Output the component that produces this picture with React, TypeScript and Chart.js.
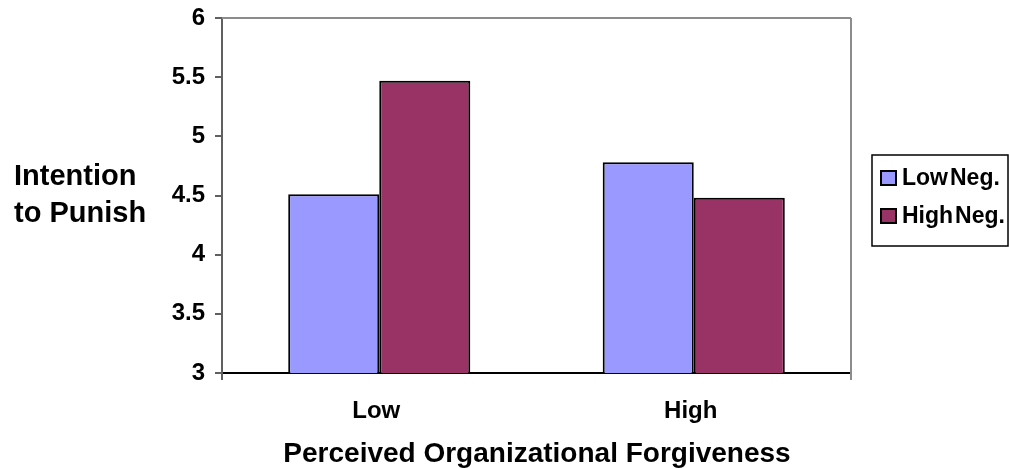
import React, { useEffect, useRef } from "react";
import { Chart, registerables } from "chart.js";

Chart.register(...registerables);

const categories = ["Low", "High"];
const lowNegValues = [4.51, 4.78];
const highNegValues = [5.47, 4.48];
const seriesNames = ["Low Neg.", "High Neg."];
const seriesColors = ["#9999FF", "#993366"];
const yTicks = [3, 3.5, 4, 4.5, 5, 5.5, 6];
const yTitleLines = ["Intention", "to Punish"];
const xTitle = "Perceived Organizational Forgiveness";

const FONT = "'Liberation Sans', Arial, sans-serif";

const decorPlugin = {
  id: "decor",
  afterDraw(chart: any) {
    const { ctx, chartArea } = chart;
    const { left, right, top, bottom } = chartArea;
    ctx.save();
    // top & right border (gray)
    ctx.strokeStyle = "#8c8c8c";
    ctx.lineWidth = 2;
    ctx.beginPath();
    ctx.moveTo(left, top);
    ctx.lineTo(right, top);
    ctx.moveTo(right, top);
    ctx.lineTo(right, bottom + 7);
    ctx.stroke();
    // left axis extension
    ctx.strokeStyle = "#606060";
    ctx.beginPath();
    ctx.moveTo(left, bottom);
    ctx.lineTo(left, bottom + 7);
    ctx.stroke();
    // y title
    ctx.fillStyle = "#000";
    ctx.font = `bold 29px ${FONT}`;
    ctx.textAlign = "left";
    ctx.textBaseline = "alphabetic";
    ctx.fillText(yTitleLines[0], 14, 185);
    ctx.fillText(yTitleLines[1], 14, 222);
    // x title
    ctx.textAlign = "center";
    ctx.font = `bold 28px ${FONT}`;
    ctx.fillText(xTitle, (left + right) / 2 + 0.5, 462);
    // legend
    const bx = 872, by = 155, bw = 136, bh = 91;
    ctx.strokeStyle = "#000";
    ctx.lineWidth = 1.5;
    ctx.strokeRect(bx, by, bw, bh);
    ctx.font = `bold 23px ${FONT}`;
    ctx.textAlign = "left";
    ctx.textBaseline = "middle";
    const ys = [178, 216];
    seriesNames.forEach((name, i) => {
      ctx.fillStyle = seriesColors[i];
      ctx.fillRect(881, ys[i] - 7, 15, 14);
      ctx.strokeStyle = "#000";
      ctx.lineWidth = 2;
      ctx.strokeRect(881, ys[i] - 7, 15, 14);
      ctx.fillStyle = "#000";
      const words = name.split(" ");
      let x = 902;
      words.forEach((w) => {
        ctx.fillText(w, x, ys[i] + 1);
        x += ctx.measureText(w).width + 2;
      });
    });
    ctx.restore();
  },
};

export default function App() {
  const ref = useRef<HTMLCanvasElement>(null);
  useEffect(() => {
    if (!ref.current) return;
    const chart = new Chart(ref.current, {
      type: "bar",
      data: {
        labels: categories,
        datasets: [
          {
            label: seriesNames[0],
            data: lowNegValues,
            backgroundColor: seriesColors[0],
            borderColor: "#000",
            borderWidth: 2,
            barPercentage: 1,
            categoryPercentage: 0.579,
          },
          {
            label: seriesNames[1],
            data: highNegValues,
            backgroundColor: seriesColors[1],
            borderColor: "#000",
            borderWidth: 2,
            barPercentage: 1,
            categoryPercentage: 0.579,
          },
        ],
      },
      options: {
        responsive: false,
        animation: false,
        devicePixelRatio: 1,
        layout: { padding: { left: 0, top: 18, right: 158, bottom: 0 } },
        plugins: { legend: { display: false }, tooltip: { enabled: false } },
        scales: {
          x: {
            afterFit: (s: any) => { s.height = 95; s.paddingLeft = 0; s.paddingRight = 0; },
            grid: { display: false, drawTicks: false },
            border: { display: true, color: "#000", width: 2 },
            ticks: {
              color: "#000",
              font: { family: FONT, size: 24, weight: "bold" },
              padding: 24,
              labelOffset: -3,
            },
          },
          y: {
            min: 3,
            max: 6,
            afterFit: (s: any) => { s.width = 222; s.paddingTop = 0; s.paddingBottom = 0; },
            afterBuildTicks: (s: any) => { s.ticks = yTicks.map((v) => ({ value: v })); },
            grid: { drawOnChartArea: false, drawTicks: true, tickLength: 7, color: "#606060", lineWidth: 2 },
            border: { display: true, color: "#606060", width: 2 },
            ticks: {
              color: "#000",
              font: { family: FONT, size: 24, weight: "bold" },
              padding: 10,
              callback: (v: any) => String(v),
            },
          },
        },
      },
      plugins: [decorPlugin],
    });
    return () => chart.destroy();
  }, []);
  return (
    <div style={{ position: "absolute", left: 0, top: 0, width: 1009, height: 468, background: "#fff" }}>
      <canvas ref={ref} width={1009} height={468} />
    </div>
  );
}
